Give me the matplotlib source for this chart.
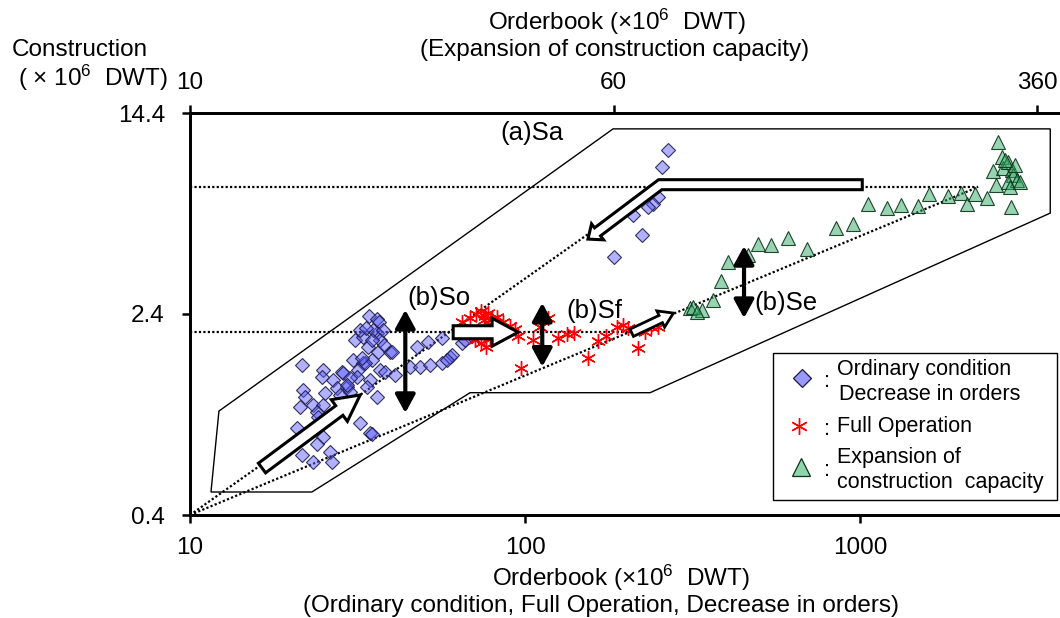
import numpy as np
import matplotlib
matplotlib.use("Agg")
import matplotlib.pyplot as plt
from matplotlib.patches import Polygon, Rectangle
from matplotlib.ticker import NullLocator, FixedLocator, FixedFormatter

plt.rcParams['font.family'] = ['Liberation Sans', 'DejaVu Sans']
plt.rcParams['mathtext.fontset'] = 'custom'
plt.rcParams['mathtext.rm'] = 'Liberation Sans'
plt.rcParams['mathtext.default'] = 'regular'

# ---------------- data ----------------
# Ordinary condition / decrease in orders: (orderbook, construction), bottom axis
ordinary_pts = [
    (267, 10.4), (256, 8.90), (250, 6.81), (241, 6.40), (233, 6.23), (210, 5.80),
    (224, 4.85), (184, 3.99),
    (34.2, 2.36), (36.2, 2.30), (36.7, 2.24), (31.1, 1.90), (32.8, 1.96), (36.2, 2.03),
    (36.9, 1.90), (34.0, 1.79), (35.2, 2.08), (37.7, 2.08), (39.5, 1.71), (36.4, 1.71),
    (30.7, 1.59), (32.8, 1.55), (34.9, 1.59), (36.9, 1.46), (34.5, 1.33), (28.4, 1.43),
    (26.7, 1.33), (29.4, 1.25), (30.0, 1.20), (33.8, 1.25), (36.2, 1.15), (21.6, 1.52),
    (24.9, 1.46), (24.8, 1.37), (21.7, 1.22), (22.0, 1.15), (21.3, 1.05), (23.3, 1.07),
    (24.9, 1.07), (23.9, 1.00), (24.1, 0.96), (20.9, 0.87), (32.2, 0.91), (34.5, 0.83),
    (34.9, 0.82), (24.9, 0.80), (23.9, 0.75), (21.6, 0.68), (23.3, 0.64), (26.2, 0.70),
    (26.5, 0.64), (27.5, 1.24), (28.0, 1.17), (25.3, 1.19), (31.7, 1.46), (31.5, 1.37),
    (38.2, 1.43), (40.9, 1.39), (33.3, 1.55), (32.6, 1.62), (28.6, 1.42), (30.0, 1.36),
    (29.4, 1.27), (32.2, 2.08), (33.5, 2.12), (34.9, 1.90), (37.9, 1.82),
    (45.4, 1.50), (48.6, 1.50), (52.0, 1.52), (56.5, 1.55), (59.7, 1.64), (47.6, 1.79),
    (51.3, 1.87), (56.5, 1.94), (60.5, 1.67), (64.9, 1.85), (66.2, 1.90), (58.5, 1.59),
    (69.5, 1.97), (40.1, 1.71),
]
ord_x = [p[0] for p in ordinary_pts]
ord_y = [p[1] for p in ordinary_pts]

# Full operation, bottom axis
full_pts = [
    (64.9, 2.235), (68.5, 2.316), (71.4, 2.400), (73.9, 2.465), (75.9, 2.358),
    (77.5, 2.421), (79.7, 2.296), (82.5, 2.337), (86.0, 2.235), (90.2, 2.157),
    (93.3, 2.099), (70.9, 1.903), (73.9, 1.853), (76.5, 1.788), (78.6, 1.920),
    (72.4, 1.972), (75.4, 2.275), (80.3, 2.137), (95.3, 1.972), (105.7, 1.903),
    (110.9, 2.137), (117.2, 2.316), (125.5, 1.938), (133.5, 2.008), (140.1, 2.026),
    (97.3, 1.483), (154.2, 1.621), (165.2, 1.886), (174.5, 1.972), (188.3, 2.137),
    (196.2, 2.176), (203.1, 2.118), (217.5, 1.772), (228.2, 2.044), (237.8, 2.137),
    (249.5, 2.137),
]
full_x = [p[0] for p in full_pts]
full_y = [p[1] for p in full_pts]

# Expansion of construction capacity, top axis
expansion_pts = [
    (83.0, 2.53), (87.3, 2.49), (84.1, 2.55), (85.5, 2.45), (91.5, 2.72), (94.6, 3.22),
    (97.5, 3.82), (106.1, 4.06), (110.7, 4.48), (117.0, 4.44), (125.7, 4.73),
    (136.2, 4.28), (154.0, 5.17), (165.5, 5.35), (176.4, 6.40), (191.1, 6.17),
    (202.8, 6.34), (217.9, 6.28), (228.3, 7.00), (247.4, 6.87), (261.4, 7.06),
    (268.1, 6.40), (277.3, 7.00), (291.8, 6.75), (323.0, 6.23), (305.7, 11.1),
    (310.9, 9.73), (299.3, 8.59), (303.1, 7.58), (312.2, 8.82), (318.9, 9.30),
    (324.3, 8.66), (325.7, 8.28), (318.9, 7.78), (331.3, 7.93), (321.6, 7.44),
    (328.5, 9.06), (314.9, 9.47), (335.5, 7.78),
]
exp_x = [p[0] for p in expansion_pts]
exp_y = [p[1] for p in expansion_pts]

bottom_ticks = [10, 100, 1000]
top_ticks = [10, 60, 360]
y_ticks = [0.4, 2.4, 14.4]

# region (a)Sa
region_x = [11.55, 12.2, 183, 3690, 3690, 236, 68.5, 23.1]
region_y = [0.491, 1.01, 12.5, 12.5, 5.9, 1.19, 1.19, 0.491]

# guide lines
origin = (10, 0.4)
level_hi = 7.45
level_lo = 2.04
upper_end_x = 244
lower_end_x = 2250
level_lo_end_x = 220

# ---------------- figure ----------------
fig = plt.figure(figsize=(10.6, 6.18), dpi=100)
ax = fig.add_axes([190 / 1060, 103 / 618, 872 / 1060, 402 / 618])
ax.set_xscale('log')
ax.set_yscale('log')
ax.set_xlim(10, 4000)
ax.set_ylim(0.4, 14.4)

ax2 = ax.twiny()
ax2.set_xscale('log')
ax2.set_xlim(10, 400)

for a in (ax, ax2):
    a.xaxis.set_minor_locator(NullLocator())
    a.yaxis.set_minor_locator(NullLocator())
    a.spines['right'].set_visible(False)
    for s in a.spines.values():
        s.set_linewidth(2.0)

ax.xaxis.set_major_locator(FixedLocator(bottom_ticks))
ax.xaxis.set_major_formatter(FixedFormatter([str(t) for t in bottom_ticks]))
ax.yaxis.set_major_locator(FixedLocator(y_ticks))
ax.yaxis.set_major_formatter(FixedFormatter([str(t) for t in y_ticks]))
ax2.xaxis.set_major_locator(FixedLocator(top_ticks))
ax2.xaxis.set_major_formatter(FixedFormatter([str(t) for t in top_ticks]))

fs = 17.5
ax.tick_params(axis='x', direction='out', length=6, width=1.8, labelsize=fs, pad=10)
ax.tick_params(axis='y', direction='out', length=6, width=1.8, labelsize=fs, pad=12)
ax2.tick_params(axis='x', direction='out', length=6, width=1.8, labelsize=fs, pad=8)

# region outline
ax.add_patch(Polygon(np.column_stack([region_x, region_y]), closed=True,
                     fill=False, ec='black', lw=1.0, zorder=2))

dot = dict(color='black', lw=1.6, ls=(0, (1, 1)), zorder=3)
ax.plot([10, lower_end_x], [level_hi, level_hi], **dot)
ax.plot([10, level_lo_end_x], [level_lo, level_lo], **dot)
ax.plot([origin[0], upper_end_x], [origin[1], level_hi], **dot)
ax.plot([origin[0], lower_end_x], [origin[1], level_hi], **dot)

ax.plot(ord_x, ord_y, ls='none', marker='D', ms=7.5,
        mfc=(0.36, 0.36, 1.0, 0.48), mec=(0.12, 0.12, 0.3, 0.9), mew=0.8, zorder=4)
ax.plot(full_x, full_y, ls='none', marker=(6, 2, 0), ms=10.5,
        color='red', mew=1.0, zorder=4)
ax2.plot(exp_x, exp_y, ls='none', marker='^', ms=10.5,
         mfc=(0.2, 0.67, 0.4, 0.5), mec=(0.05, 0.2, 0.1, 0.9), mew=0.8, zorder=4)


def _offset(P, h):
    seg = P[1:] - P[:-1]
    nrm = np.column_stack([-seg[:, 1], seg[:, 0]]) / np.hypot(seg[:, 0], seg[:, 1])[:, None]
    out = [P[0] + h * nrm[0]]
    for i in range(1, len(P) - 1):
        m = (nrm[i - 1] + nrm[i]) / (1 + nrm[i - 1] @ nrm[i])
        out.append(P[i] + h * m)
    out.append(P[-1] + h * nrm[-1])
    return np.array(out)


def block_arrow(axis, pts, shaft, head_w, head_len, lw=2.2, z=6):
    P = axis.transData.transform(np.asarray(pts, float))
    d = P[-1] - P[-2]
    d = d / np.hypot(*d)
    n = np.array([-d[1], d[0]])
    base = P[-1] - d * head_len
    spine = np.vstack([P[:-1], base])
    left = _offset(spine, shaft / 2)
    right = _offset(spine, -shaft / 2)
    poly = np.vstack([left, base + n * head_w / 2, P[-1], base - n * head_w / 2, right[::-1]])
    verts = axis.transData.inverted().transform(poly)
    axis.add_patch(Polygon(verts, closed=True, fc='white', ec='black', lw=lw,
                           joinstyle='miter', zorder=z))


block_arrow(ax, [(16.4, 0.608), (32.2, 1.166)], 12, 27, 26)
block_arrow(ax, [(61, 2.04), (95.3, 2.04)], 13, 28, 26)
block_arrow(ax, [(208, 2.03), (277, 2.42)], 8, 18, 14, lw=2.0)
block_arrow(ax, [(1014, 7.6), (253, 7.6), (154, 4.68)], 10, 20, 12)

dbl = dict(arrowstyle='<|-|>,head_length=0.55,head_width=0.3', lw=3, color='black',
           shrinkA=0, shrinkB=0, mutation_scale=20)
ax.annotate('', xy=(43.9, 2.49), xytext=(43.9, 0.993), arrowprops=dbl, zorder=7)
ax.annotate('', xy=(112.5, 2.65), xytext=(112.5, 1.5), arrowprops=dbl, zorder=7)
ax2.annotate('', xy=(104.2, 4.4), xytext=(104.2, 2.315), arrowprops=dbl, zorder=7)

lab = dict(fontsize=18.5, ha='left', va='center', zorder=8)
ax.text(84.1, 12.05, '(a)Sa', **lab)
ax.text(44.5, 2.77, '(b)So', **lab)
ax.text(132.5, 2.47, '(b)Sf', **lab)
ax.text(483, 2.65, '(b)Se', **lab)

# legend
T = ax2.transAxes
ax2.add_patch(Rectangle((0.6686, 0.0373), 0.9943 - 0.6686, 0.403 - 0.0373, transform=T,
                        fc='white', ec='black', lw=1.0, zorder=9, clip_on=False))
ax2.plot([0.702], [0.341], transform=T, marker='D', ms=9.5, ls='none',
         mfc=(0.6, 0.6, 0.98), mec=(0.1, 0.1, 0.25), mew=0.9, zorder=10, clip_on=False)
ax2.plot([0.698], [0.221], transform=T, marker=(6, 2, 0), ms=12, ls='none',
         color='red', mew=1.0, zorder=10, clip_on=False)
ax2.plot([0.701], [0.119], transform=T, marker='^', ms=13.5, ls='none',
         mfc=(0.56, 0.84, 0.67), mec=(0.05, 0.2, 0.1), mew=0.9, zorder=10, clip_on=False)
lt = dict(transform=T, fontsize=15.5, ha='left', va='center', zorder=10)
for yy in (0.341, 0.221, 0.119):
    ax2.text(0.727, yy - 0.008, ':', **lt)
ax2.text(0.742, 0.363, 'Ordinary condition', **lt)
ax2.text(0.744, 0.299, 'Decrease in orders', **lt)
ax2.text(0.742, 0.221, 'Full Operation', **lt)
ax2.text(0.742, 0.142, 'Expansion of', **lt)
ax2.text(0.742, 0.080, 'construction  capacity', **lt)

# axis titles
fig.text(621 / 1060, 1 - 578 / 618, 'Orderbook (×10$^6$  DWT)', ha='center', va='center', fontsize=fs)
fig.text(601 / 1060, 1 - 606 / 618, '(Ordinary condition, Full Operation, Decrease in orders)',
         ha='center', va='center', fontsize=fs)
fig.text(617 / 1060, 1 - 22 / 618, 'Orderbook (×10$^6$  DWT)', ha='center', va='center', fontsize=fs)
fig.text(615 / 1060, 1 - 50 / 618, '(Expansion of construction capacity)',
         ha='center', va='center', fontsize=fs)
fig.text(12 / 1060, 1 - 50 / 618, 'Construction', ha='left', va='center', fontsize=fs)
fig.text(18 / 1060, 1 - 78 / 618, '( × 10$^6$  DWT)', ha='left', va='center', fontsize=fs)

fig.savefig('out.png', dpi=100)
